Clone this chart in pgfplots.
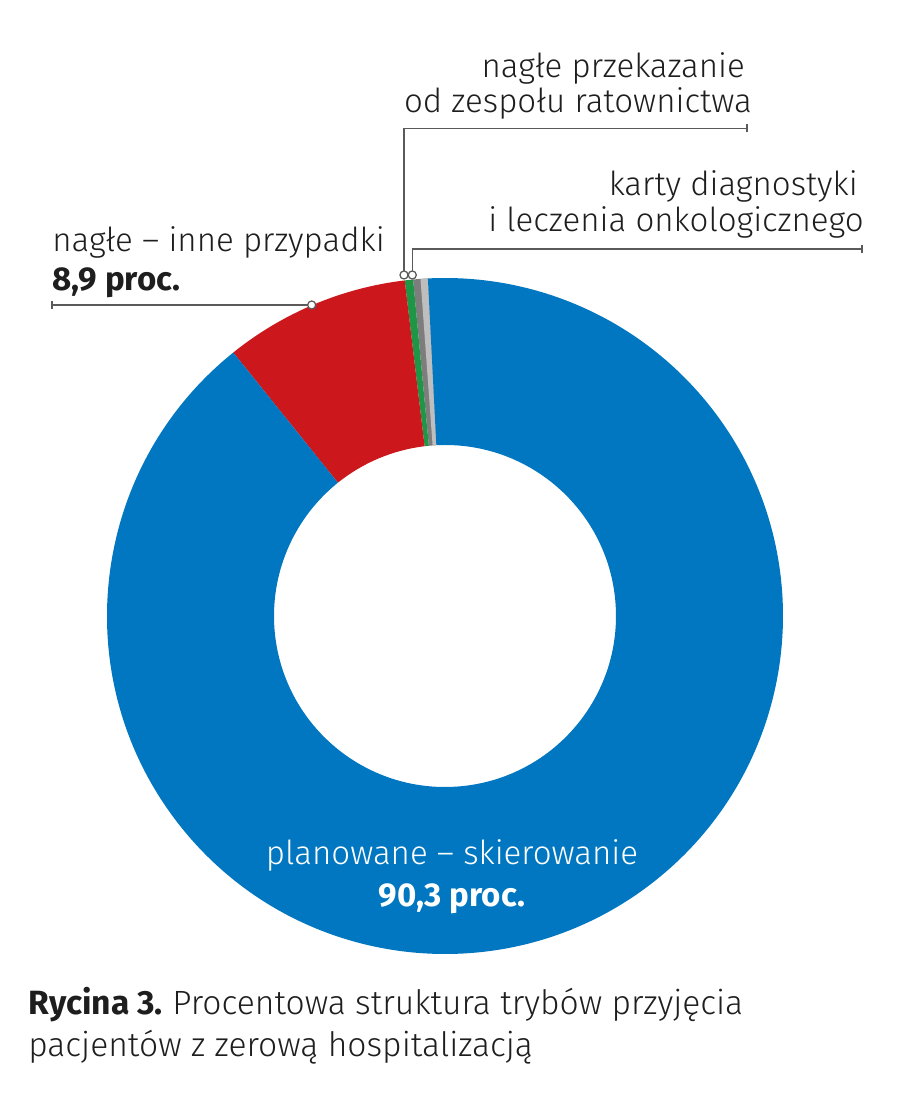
\documentclass[border=0pt]{standalone}
\usepackage{pgfplots}
\pgfplotsset{compat=1.18}
\usepackage{pgfplotstable}
\usepackage{fontspec}
\setmainfont{Fira Sans}[UprightFont={* Light},BoldFont={* Bold}]
\frenchspacing

\definecolor{cblue}{RGB}{0,119,192}
\definecolor{cred}{RGB}{204,24,28}
\definecolor{cgreen}{RGB}{30,150,70}
\definecolor{cgray}{RGB}{125,125,125}
\definecolor{clgray}{RGB}{190,190,190}
\definecolor{cline}{RGB}{90,90,90}
\definecolor{ctext}{RGB}{30,30,30}

% shares of admission modes (percent)
\pgfplotstableread{
mode value
planowane 90.3
nagle 8.9
ratownictwo 0.4
dilo 0.7
}\slices

\newcommand\lblfont{\fontsize{23.8pt}{27pt}\selectfont}
\newcommand\capfont{\fontsize{24.2pt}{30pt}\selectfont}

\begin{document}
\begin{tikzpicture}
\pgfplotstablegetelem{0}{value}\of\slices \let\vPlan\pgfplotsretval
\pgfplotstablegetelem{1}{value}\of\slices \let\vNag\pgfplotsretval
\pgfplotstablegetelem{2}{value}\of\slices \let\vRat\pgfplotsretval
\pgfplotstablegetelem{3}{value}\of\slices \let\vDilo\pgfplotsretval
\pgfmathsetmacro\degper{360/(\vPlan+\vNag+\vRat+\vDilo)}
\pgfmathsetmacro\aStart{92.9}
\pgfmathsetmacro\aDilo{\aStart+\degper*\vDilo}
\pgfmathsetmacro\aDiloHalf{\aStart+0.5*\degper*\vDilo}
\pgfmathsetmacro\aRat{\aDilo+\degper*\vRat}
\pgfmathsetmacro\aNag{\aRat+\degper*\vNag}
\pgfmathsetmacro\aPlan{\aNag+\degper*\vPlan}
% ring: centre (445,485) in axis units, outer 338, inner 171 (1 unit = 0.72pt)
\newcommand\ringpart[3]{%
  \fill[#3] (axis cs:445,485) ++(#1:243.36pt)
    arc[start angle=#1,end angle=#2,radius=243.36pt]
    -- ++(#2+180:120.24pt)
    arc[start angle=#2,end angle=#1,radius=123.12pt] -- cycle;}
\begin{axis}[width=648pt,height=792.72pt,scale only axis,hide axis,
  xmin=0,xmax=900,ymin=0,ymax=1101,clip=false]
\path (axis cs:0,0) (axis cs:900,1101);
\ringpart{\aStart}{\aDilo}{cgray}
\ringpart{\aStart}{\aDiloHalf}{clgray}
\ringpart{\aDilo}{\aRat}{cgreen}
\ringpart{\aRat}{\aNag}{cred}
\ringpart{\aNag}{\aPlan}{cblue}

% leader lines
\draw[cline,line width=1.1pt] (axis cs:52,792) -- (axis cs:52,800);
\draw[cline,line width=1.1pt] (axis cs:52,796) -- (axis cs:311.7,796);
\draw[cline,line width=1.1pt] (axis cs:404,825) -- (axis cs:404,972.7) -- (axis cs:747,972.7);
\draw[cline,line width=1.1pt] (axis cs:747,968.7) -- (axis cs:747,976.7);
\draw[cline,line width=1.1pt] (axis cs:412.3,825) -- (axis cs:412.3,852) -- (axis cs:862,852);
\draw[cline,line width=1.1pt] (axis cs:862,848) -- (axis cs:862,856);
\draw[cline,fill=white,line width=0.9pt] (axis cs:311.7,796) circle[radius=2.9pt];
\draw[cline,fill=white,line width=0.9pt] (axis cs:404,826) circle[radius=2.9pt];
\draw[cline,fill=white,line width=0.9pt] (axis cs:412.3,826) circle[radius=2.9pt];

% labels
\node[anchor=base west,inner sep=0,text=ctext] at (axis cs:52,849) {\lblfont nagłe – inne przypadki};
\node[anchor=base west,inner sep=0,text=ctext] at (axis cs:52,810) {\lblfont\bfseries 8,9 proc.};
\node[anchor=base east,inner sep=0,text=ctext] at (axis cs:745,1023) {\lblfont nagłe przekazanie};
\node[anchor=base east,inner sep=0,text=ctext] at (axis cs:752,988) {\lblfont od zespołu ratownictwa};
\node[anchor=base east,inner sep=0,text=ctext] at (axis cs:858,905) {\lblfont karty diagnostyki};
\node[anchor=base east,inner sep=0,text=ctext] at (axis cs:864,869) {\lblfont i leczenia onkologicznego};
\node[anchor=base,inner sep=0,text=white] at (axis cs:452,236) {\lblfont planowane – skierowanie};
\node[anchor=base,inner sep=0,text=white] at (axis cs:452,194) {\lblfont\bfseries 90,3 proc.};

% caption
\node[anchor=base west,inner sep=0,text=ctext] at (axis cs:28,86) {\capfont\textbf{Rycina 3.} Procentowa struktura trybów przyjęcia};
\node[anchor=base west,inner sep=0,text=ctext] at (axis cs:28,44) {\capfont pacjentów z zerową hospitalizacją};
\end{axis}
\end{tikzpicture}
\end{document}
